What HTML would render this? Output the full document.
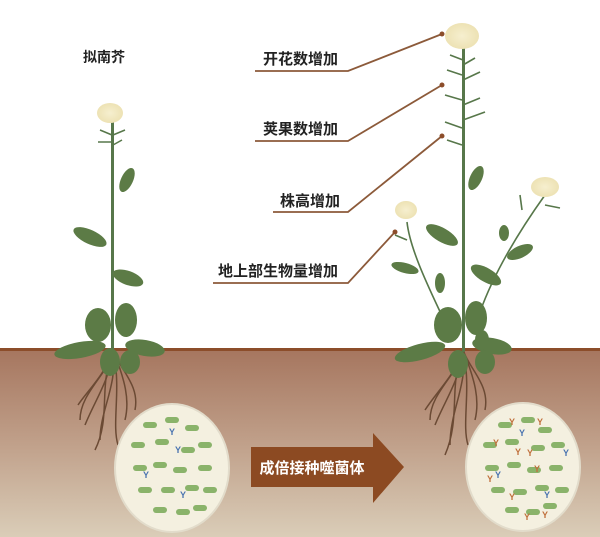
<!DOCTYPE html>
<html><head><meta charset="utf-8"><style>
html,body{margin:0;padding:0;background:#fff}
svg{display:block}
text{font-family:"Liberation Sans","Noto Sans CJK SC",sans-serif;font-weight:bold}
</style></head><body>
<svg width="600" height="537" viewBox="0 0 600 537" xmlns="http://www.w3.org/2000/svg">
<defs>
<linearGradient id="soil" x1="0" y1="0" x2="0" y2="1">
<stop offset="0" stop-color="#a6765f"/><stop offset="0.5" stop-color="#c0a08a"/><stop offset="1" stop-color="#dacdb8"/>
</linearGradient>
<radialGradient id="fl" cx="0.5" cy="0.5" r="0.5"><stop offset="0" stop-color="#f6efcf"/><stop offset="1" stop-color="#ede2b4"/></radialGradient>
<g id="bac"><rect x="-7" y="-3" width="14" height="6" rx="3" fill="#8ab36a"/></g>
</defs>
<rect x="0" y="350" width="600" height="187" fill="url(#soil)"/>
<rect x="0" y="348" width="600" height="3" fill="#8c4d2a"/>

<text x="83" y="62" font-size="14" fill="#222">拟南芥</text>
<g font-size="15" fill="#222">
<text x="263" y="64">开花数增加</text>
<text x="263" y="134">荚果数增加</text>
<text x="280" y="206">株高增加</text>
<text x="218" y="276">地上部生物量增加</text>
</g>
<g stroke="#8c5a3a" stroke-width="1.8" fill="none">
<polyline points="255,71 348,71 442,34"/>
<polyline points="255,141 348,141 442,85"/>
<polyline points="273,212 348,212 442,136"/>
<polyline points="213,283 348,283 395,232"/>
</g>
<g fill="#8c4d2a"><circle cx="442" cy="34" r="2.5"/><circle cx="442" cy="85" r="2.5"/><circle cx="442" cy="136" r="2.5"/><circle cx="395" cy="232" r="2.5"/></g>

<g stroke="#6b4a34" stroke-width="1.5" fill="none">
<path d="M113,350 C110,380 95,400 85,425"/><path d="M113,350 C118,385 100,410 100,440"/>
<path d="M113,350 C125,380 130,400 125,420"/><path d="M113,350 C105,375 88,390 78,405"/>
<path d="M113,350 C120,370 140,385 135,410"/><path d="M110,360 C100,390 110,420 95,450"/>
<path d="M115,360 C120,395 112,425 118,445"/><path d="M108,365 C95,385 80,400 80,420"/>
</g>
<g fill="#5c7b46">
<rect x="111" y="120" width="3" height="232" fill="#57774a"/>
<ellipse cx="127" cy="180" rx="6" ry="13" transform="rotate(25 127 180)"/>
<ellipse cx="90" cy="237" rx="18" ry="7" transform="rotate(25 90 237)"/>
<ellipse cx="128" cy="278" rx="16" ry="7" transform="rotate(20 128 278)"/>
<ellipse cx="98" cy="325" rx="13" ry="17"/>
<ellipse cx="126" cy="320" rx="11" ry="17"/>
<ellipse cx="80" cy="350" rx="26" ry="8" transform="rotate(-10 80 350)"/>
<ellipse cx="145" cy="348" rx="20" ry="8" transform="rotate(10 145 348)"/>
<ellipse cx="110" cy="362" rx="10" ry="14"/>
<ellipse cx="130" cy="362" rx="10" ry="12"/>
</g>
<g stroke="#57774a" stroke-width="1.5" fill="none"><path d="M112,135 L100,130"/><path d="M113,135 L125,130"/><path d="M112,142 L98,142"/><path d="M113,145 L122,140"/></g>
<ellipse cx="110" cy="113" rx="13" ry="10" fill="url(#fl)"/>

<g stroke="#6b4a34" stroke-width="1.5" fill="none">
<path d="M463,350 C460,380 445,400 435,425"/><path d="M463,350 C468,385 450,410 450,445"/>
<path d="M463,350 C475,380 480,400 475,420"/><path d="M463,350 C455,375 438,390 425,410"/>
<path d="M463,350 C470,370 490,385 485,410"/><path d="M460,360 C450,390 460,420 445,455"/>
<path d="M465,360 C470,395 462,425 468,445"/><path d="M458,365 C445,385 430,400 430,420"/>
</g>
<g stroke="#57774a" stroke-width="1.6" fill="none">
<path d="M443,318 C430,290 410,250 407,222"/>
<path d="M480,312 C495,270 520,230 545,195"/>
<path d="M463,60 L450,55"/><path d="M463,65 L475,58"/><path d="M462,75 L447,70"/><path d="M463,80 L480,72"/>
<path d="M462,100 L445,95"/><path d="M463,105 L480,98"/><path d="M462,128 L445,122"/><path d="M463,120 L485,112"/><path d="M462,145 L447,140"/>
<path d="M407,240 L395,235"/><path d="M545,205 L560,208"/><path d="M520,195 L522,210"/>
</g>
<rect x="462" y="45" width="3" height="307" fill="#57774a"/>
<g fill="#5c7b46">
<ellipse cx="476" cy="178" rx="6" ry="13" transform="rotate(25 476 178)"/>
<ellipse cx="442" cy="235" rx="18" ry="7" transform="rotate(30 442 235)"/>
<ellipse cx="486" cy="275" rx="17" ry="7" transform="rotate(30 486 275)"/>
<ellipse cx="405" cy="268" rx="14" ry="5" transform="rotate(15 405 268)"/>
<ellipse cx="440" cy="283" rx="5" ry="10"/>
<ellipse cx="504" cy="233" rx="5" ry="8"/>
<ellipse cx="520" cy="252" rx="14" ry="6" transform="rotate(-25 520 252)"/>
<ellipse cx="448" cy="325" rx="14" ry="18"/>
<ellipse cx="476" cy="318" rx="11" ry="17"/>
<ellipse cx="420" cy="352" rx="26" ry="8" transform="rotate(-15 420 352)"/>
<ellipse cx="492" cy="346" rx="20" ry="8" transform="rotate(10 492 346)"/>
<ellipse cx="458" cy="364" rx="10" ry="14"/>
<ellipse cx="485" cy="362" rx="10" ry="12"/>
<ellipse cx="482" cy="340" rx="7" ry="10"/>
</g>
<ellipse cx="462" cy="36" rx="17" ry="13" fill="url(#fl)"/>
<ellipse cx="406" cy="210" rx="11" ry="9" fill="url(#fl)"/>
<ellipse cx="545" cy="187" rx="14" ry="10" fill="url(#fl)"/>

<ellipse cx="172" cy="468" rx="57" ry="64" fill="#f4f0e0" stroke="#e2dccb" stroke-width="2"/>
<ellipse cx="523" cy="467" rx="57" ry="64" fill="#f4f0e0" stroke="#e2dccb" stroke-width="2"/>
<g>
<use href="#bac" x="150" y="425"/>
<use href="#bac" x="172" y="420"/><use href="#bac" x="192" y="428"/>
<use href="#bac" x="138" y="445"/><use href="#bac" x="162" y="442"/><use href="#bac" x="188" y="450"/><use href="#bac" x="205" y="445"/>
<use href="#bac" x="140" y="468"/><use href="#bac" x="160" y="465"/><use href="#bac" x="180" y="470"/><use href="#bac" x="205" y="468"/>
<use href="#bac" x="145" y="490"/><use href="#bac" x="168" y="490"/><use href="#bac" x="192" y="488"/><use href="#bac" x="210" y="490"/>
<use href="#bac" x="160" y="510"/><use href="#bac" x="183" y="512"/><use href="#bac" x="200" y="508"/>
</g>
<g>
<use href="#bac" x="505" y="425"/><use href="#bac" x="528" y="420"/><use href="#bac" x="545" y="430"/>
<use href="#bac" x="490" y="445"/><use href="#bac" x="512" y="442"/><use href="#bac" x="538" y="448"/><use href="#bac" x="558" y="445"/>
<use href="#bac" x="492" y="468"/><use href="#bac" x="514" y="465"/><use href="#bac" x="534" y="470"/><use href="#bac" x="556" y="468"/>
<use href="#bac" x="498" y="490"/><use href="#bac" x="520" y="492"/><use href="#bac" x="542" y="488"/><use href="#bac" x="562" y="490"/>
<use href="#bac" x="512" y="510"/><use href="#bac" x="533" y="512"/><use href="#bac" x="550" y="506"/>
</g>
<g font-size="9" font-weight="bold" text-anchor="middle" fill="#4a74b0">
<text x="172" y="435">Y</text><text x="178" y="453">Y</text><text x="146" y="478">Y</text><text x="183" y="498">Y</text>
<text x="522" y="436">Y</text><text x="498" y="478">Y</text><text x="566" y="456">Y</text><text x="547" y="498">Y</text>
</g>
<g font-size="9" font-weight="bold" text-anchor="middle" fill="#c0703c">
<text x="512" y="425">Y</text><text x="540" y="425">Y</text><text x="496" y="446">Y</text><text x="530" y="456">Y</text>
<text x="518" y="455">Y</text><text x="537" y="472">Y</text><text x="490" y="482">Y</text><text x="512" y="500">Y</text>
<text x="527" y="520">Y</text><text x="545" y="518">Y</text>
</g>

<polygon points="251,447 373,447 373,433 404,467 373,503 373,487 251,487" fill="#8c4a22"/>
<text x="312" y="473" font-size="15" fill="#fff" text-anchor="middle">成倍接种噬菌体</text>
</svg>
</body></html>
